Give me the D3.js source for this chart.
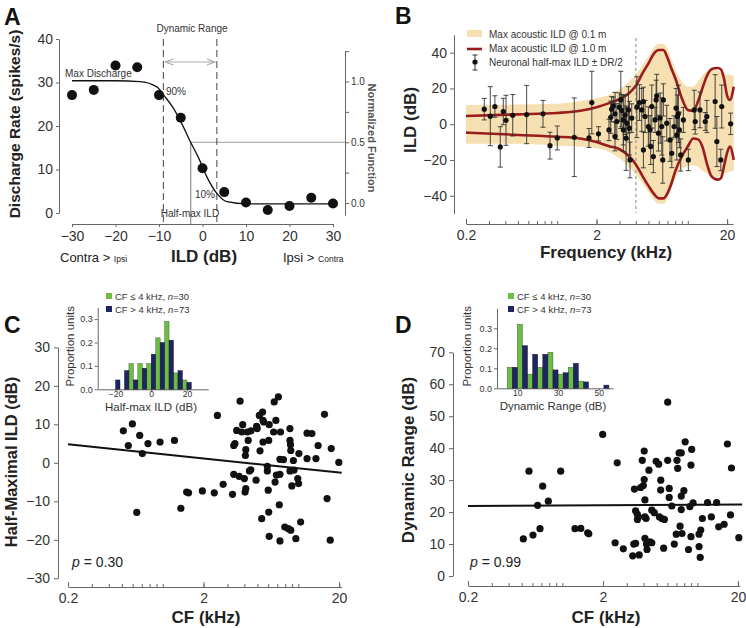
<!DOCTYPE html>
<html>
<head>
<meta charset="utf-8">
<script src="https://cdn.jsdelivr.net/npm/d3@7"></script>
<style>
  body { margin: 0; background: #fff; }
  svg { font-family: "Liberation Sans", Arial, Helvetica, sans-serif; display: block; }
  .axis path, .axis line { stroke: #666; }
  .axis text { fill: #333; font-size: 14px; font-family: "Liberation Sans", Arial, sans-serif; }
  .ann { fill: #333; font-size: 10px; }
  .title { font-weight: bold; fill: #222; font-size: 17px; }
  .letter { font-weight: bold; fill: #111; font-size: 23px; }
</style>
</head>
<body>
<div id="target"></div>
<script>
// ---- panel A: example rate-ILD function ----
const ildLevels = [-30, -25, -20, -15, -10, -5, 0, 5, 10, 15, 20, 25, 30];
const rates = [27.1, 28.3, 33.9, 33.5, 27.1, 21.9, 10.3, 4.8, 2.4, 0.7, 1.6, 3.5, 2.2];
// fitted sigmoid
const fitIld = [-30, -20, -14.4, -10.5, -8.6, -6.7, -4.4, -2.7, -1, 1, 3.3, 5.6, 10.2, 30];
const fitRate = [30.4, 30.4, 30.2, 29, 26.7, 24.1, 19.8, 16.2, 12.9, 8.3, 4.5, 2.6, 2.1, 2.1];
const dr90 = -9, dr10 = 3.3, halfMax = -2.7;

// ---- panel B: acoustic ILD envelopes ----
const envFreq = [0.2, 0.5, 1, 1.5, 2, 2.5, 3, 3.5, 4, 4.5, 5, 5.5, 6, 6.5, 7, 7.5, 8, 9, 10, 11, 12, 13, 14, 15, 16, 17, 18, 19, 20, 21, 22.5];
const tanUpper = [10.8, 11, 11.5, 13, 14.5, 16.5, 19.5, 23.5, 28, 33, 38, 43, 45, 45, 42, 36, 31, 24, 21, 21, 24, 27.5, 29.5, 30.5, 30.5, 30, 29, 28, 28, 27.5, 27];
const tanLower = [-11, -11, -12, -12.5, -13.5, -15.5, -19, -23.5, -28, -33, -38, -42.5, -44.5, -44.5, -41.5, -36, -30.5, -25, -23.5, -23, -24, -26, -27.5, -29, -29.5, -29.5, -28.5, -27.5, -27, -26.5, -26];
const redUpper = [4.6, 5.5, 6.3, 7.5, 9.5, 11.8, 14, 17, 21.5, 28.5, 34, 39.5, 41.5, 41.5, 37, 31, 26, 14.5, 8, 7.5, 13, 20.5, 27, 30.5, 31.3, 31.4, 30.5, 25, 16, 13.5, 21];
const redLower = [-4.7, -6, -7, -8, -10, -12.3, -14, -17.5, -22.5, -29, -34.5, -39, -41.5, -41.5, -38.5, -33, -26.5, -18, -12.5, -8, -8.5, -13, -22, -28.5, -30.5, -31, -30, -23, -16, -12.5, -20];

// neuronal half-max ILD (dB) +- DR/2 vs frequency (kHz)
const bFreq = [0.276, 0.307, 0.333, 0.366, 0.386, 0.405, 0.456, 0.583, 0.778, 0.88, 1.0, 1.35, 1.75, 1.84, 2.07,
  2.49, 2.57, 2.61, 2.69, 2.77, 2.77, 2.86, 2.99, 3.07, 3.12, 3.21, 3.21, 3.31, 3.37, 3.41, 3.51, 3.57, 3.61, 3.72,
  4.07, 4.26, 4.44, 4.57, 4.57, 4.71, 4.99, 5.14, 5.2, 5.3, 5.45, 5.61, 5.72, 5.78, 5.96, 6.14, 6.32, 6.43, 6.5,
  6.9, 7.31, 7.54, 7.85, 8.13, 8.24, 8.32, 8.47, 8.62, 8.83, 9.25, 10.1, 11.2, 11.4, 12.4, 13.6, 14, 16.2, 16.7,
  17.9, 18.2, 21.3];
const bIld = [8.4, 4.5, 9.9, -12.7, 7.1, 2.2, 5, 5.4, 5.8, -12, -7.7, -7.3, -7.7, 12.1, -5.4,
  -3.2, 3.9, 8.4, 10.2, 5.8, -6.9, 1.5, 9.5, 13.6, 7.6, -3.2, 2.4, 5.2, -7.8, 0.6, 8, -2.2, -20, 3.4,
  9.5, 12.1, 8, 12.7, -14.4, 4.3, -1.3, -3.2, -12.5, 9.9, -18.1, 2.4, 13.6, 15.9, -5, 3.4, -1.3, -20, 13.6,
  0.6, -8.8, -16.3, -1.3, 9, -6, 4.3, 5.8, -3.2, -17.2, 2.4, -20, 8, 1.5, 8, 1.5, 4.3, 12.7, -9.7,
  -20, 9.9, 0.2];
const bHalfDR = [6, 16.5, 6, 11.3, 7.4, 14, 11.6, 16.3, 7.5, 7.5, 6.7, 22, 5.3, 17.5, 4,
  6, 9, 7, 5, 12, 8, 10, 8, 16, 9, 12, 14, 11, 18, 9, 13, 15, 10, 8,
  17, 10, 12, 8, 10, 9, 11, 8, 10, 12, 9, 7, 11, 12, 10, 14, 16, 13, 9,
  10, 12, 8, 6, 11, 14, 12, 16, 10, 9, 7, 6, 11, 7, 10, 5, 9, 15, 14,
  6, 12, 6];

// ---- panel C / D: CF scatter ----
const cCF = [0.512, 0.597, 0.557, 0.676, 0.707, 0.778, 0.955, 1.22, 0.643, 1.36, 1.5, 1.55, 1.96, 2.4, 2.53, 2.79,
  3.27, 3.34, 3.34, 3.41, 3.51, 3.66, 3.72, 3.83, 3.89, 4.0, 4.05, 4.1, 4.07, 4.1, 4.21, 4.27, 4.36, 4.46, 4.48,
  4.88, 4.93, 4.97, 5.22, 5.16, 5.37, 5.45, 5.49, 5.49, 5.56, 5.91, 5.91, 6.0, 6.05, 6.05, 6.1, 6.1, 6.58, 6.64,
  6.74, 6.83, 6.89, 7.13, 7.24, 7.32, 7.32, 7.32, 7.39, 7.77, 7.95, 8.45, 8.68, 8.68, 8.76, 8.8, 8.68, 8.8, 8.96,
  9.2, 9.3, 9.6, 9.91, 10.05, 10.1, 10.4, 11.6, 11.6, 12.6, 13.5, 14.0, 15.6, 16.3, 17.2, 17.5, 19.9];
const cIld = [8.3, 10.1, 4.5, 7.1, 2.4, 5.0, 5.4, 5.8, -12.9, -11.8, -7.6, -7.8, -7.3, -7.8, 12.3, -5.6,
  -8.2, -3, 4.5, 5, 8.4, -3.5, 16, 8, 9.9, -4.1, -7.6, -6.7, 1.9, 3.4, 8, 5.8, -2.1, -1.8, 8.3,
  -4.5, 9.5, 8.9, 3.1, 12.3, -14.5, 13.2, 11, 5.4, 10.6, -2.1, -0.9, -7.1, 5.8, -12.8, 9.9, -19.1, 8, 15.8,
  -5, 11, -3.2, 17.1, -10.9, -3, 0.9, -20.3, 8, 0.8, -16.7, -17.1, 8.9, 5.8, 4.7, 3.2, -2.1, -17.5, -6,
  0.6, -1.9, -19.7, -4.1, -5.4, 2.4, -15.4, 7.7, 1.1, 7.6, 1.1, 4.5, 12.6, -9.3, -20.1, 3.7, 0.1];
const cFit = [[0.2, 4.8], [20.9, -2.6]];

const dCF = [0.514, 0.566, 0.606, 0.656, 0.683, 0.715, 0.787, 0.972, 1.24, 1.37, 1.54, 1.57, 1.99, 2.46, 2.55, 2.83,
  3.32, 3.38, 3.49, 3.42, 3.49, 3.59, 3.6, 3.66, 3.71, 3.8, 3.91, 3.98, 4.04, 4.04, 4.09, 4.09, 4.17, 4.09, 4.2,
  4.24, 4.38, 4.46, 4.6, 4.6, 4.8, 4.95, 5.17, 5.36, 5.24, 5.45, 5.63, 5.35, 5.7, 6.03, 6.03, 6.19, 6.19, 6.47,
  6.75, 6.98, 7.07, 7.15, 7.33, 7.6, 7.6, 7.6, 7.7, 7.45, 7.95, 8.13, 8.8, 8.97, 8.97, 9.08, 9.3, 8.6, 10.6, 10.9,
  10.3, 10.5, 10.3, 11.9, 12.7, 13.9, 14.4, 15.8, 16.7, 17.6, 17.9, 20.3];
const dRange = [11.6, 32.8, 12.8, 22.1, 14.8, 28.1, 23.4, 32.8, 14.8, 14.9, 13.5, 13.2, 44.3, 10.4, 35.4, 8.5,
  6.3, 10, 10.2, 27.2, 20.4, 19.4, 17.7, 18.5, 6.6, 27.7, 36.2, 28.3, 39.1, 30.2, 23.8, 18.5, 18, 11.8, 10,
  8.3, 33.1, 10.7, 10.4, 20.6, 19.8, 35.9, 35, 30, 18.5, 18, 8.7, 26.9, 17.7, 54.4, 36.2, 27.4, 24.6, 21.9,
  10, 13.1, 36.2, 33.7, 38.5, 38.5, 25, 20.8, 13.3, 15.6, 26.7, 42, 21.7, 12.3, 34.7, 39.6, 22.9, 8.3, 14.4, 18,
  9.2, 5.8, 13.1, 23, 18.5, 23, 15.4, 16.2, 41.3, 19.1, 33.8, 12];
const dFit = [[0.2, 21.9], [21.5, 22.4]];

// ---- insets: histograms ----
const histGroups = ['CF \u2264 4 kHz', 'CF > 4 kHz'];
const histN = [30, 73];
const cBins = [-20, -15, -10, -5, 0, 5, 10, 15, 20];
const cLow = [0, 0, 0.11, 0.11, 0.11, 0.22, 0.29, 0.07, 0.04];
const cHigh = [0.04, 0.08, 0.04, 0.09, 0.15, 0.2, 0.21, 0.08, 0.03];
const dBins = [7.5, 12.5, 17.5, 22.5, 27.5, 32.5, 37.5, 42.5, 47.5, 52.5];
const dLow = [0.105, 0.32, 0.071, 0.105, 0.18, 0.071, 0.105, 0.036, 0, 0];
const dHigh = [0.105, 0.213, 0.17, 0.17, 0.092, 0.078, 0.125, 0.032, 0, 0.016];

const freqLabels = [0.2, 2, 20];
const green = '#6cbd45', navy = '#1d2562', tan = '#f6dfb0', darkRed = '#9a1c1c';

const svg = d3.select('#target').append('svg')
  .attr('width', 746).attr('height', 628);

function minorLogTicks(lo, hi) {
  const t = [];
  [0.1, 1, 10].forEach(dec => { for (let k = 1; k <= 9; k++) { const v = +(k * dec).toFixed(2); if (v >= lo && v <= hi) t.push(v); } });
  t.push(20);
  return t.filter(v => v <= hi);
}

function logXAxis(x, y0) {
  const g = svg.append('g').attr('class', 'axis').attr('transform', `translate(0,${y0})`);
  g.call(d3.axisBottom(x).tickValues(minorLogTicks(0.2, x.domain()[1])).tickSize(-3).tickSizeOuter(0).tickFormat(''));
  const g2 = svg.append('g').attr('class', 'axis').attr('transform', `translate(0,${y0})`);
  g2.call(d3.axisBottom(x).tickValues(freqLabels).tickSize(-5).tickSizeOuter(0).tickPadding(6).tickFormat(d3.format('')));
  g2.select('.domain').remove();
}

// ===================== A =====================
const xA = d3.scaleLinear().domain([-30, 30]).range([72, 333]);
const yA = d3.scaleLinear().domain([0, 40]).range([213, 39]);
const yAn = d3.scaleLinear().domain([0, 1]).range([203, 81.5]);

svg.append('g').attr('class', 'axis').attr('transform', 'translate(59,0)')
  .call(d3.axisLeft(yA).tickValues([0, 10, 20, 30, 40]).tickSize(3).tickPadding(3).tickSizeOuter(0));
svg.append('g').attr('class', 'axis').attr('transform', 'translate(0,224)')
  .call(d3.axisBottom(xA).tickValues([-30, -20, -10, 0, 10, 20, 30]).tickSize(3).tickPadding(4).tickSizeOuter(0));
const yAnAx = d3.scaleLinear().domain([-0.1, 1.25]).range([yAn(-0.1), yAn(1.25)]);
const rA = svg.append('g').attr('class', 'axis').attr('transform', 'translate(345,0)')
  .call(d3.axisRight(yAnAx).tickValues([0, 0.25, 0.5, 0.75, 1, 1.25]).tickSize(4).tickPadding(2).tickSizeOuter(0)
    .tickFormat(d => [0, 0.5, 1].includes(d) ? d3.format('.1f')(d) : ''));
rA.selectAll('text').style('font-size', '10px');

// reference lines
svg.append('line').attr('x1', xA(halfMax)).attr('x2', 345).attr('y1', yAn(0.5)).attr('y2', yAn(0.5))
  .attr('stroke', '#999').attr('stroke-width', 1);
svg.append('line').attr('x1', xA(halfMax)).attr('x2', xA(halfMax)).attr('y1', yAn(0.5)).attr('y2', 224)
  .attr('stroke', '#777').attr('stroke-width', 1);
[dr90, dr10].forEach(v => {
  svg.append('line').attr('x1', xA(v)).attr('x2', xA(v)).attr('y1', 39).attr('y2', 224)
    .attr('stroke', '#444').attr('stroke-width', 1).attr('stroke-dasharray', '7,4');
});
// dynamic range arrow
const ay = 62, ax1 = xA(dr90) + 2, ax2 = xA(dr10) - 2;
svg.append('line').attr('x1', ax1).attr('x2', ax2).attr('y1', ay).attr('y2', ay).attr('stroke', '#aaa').attr('stroke-width', 1.2);
svg.append('path').attr('d', `M${ax1 + 8},${ay - 3}L${ax1},${ay}L${ax1 + 8},${ay + 3}M${ax2 - 8},${ay - 3}L${ax2},${ay}L${ax2 - 8},${ay + 3}`)
  .attr('fill', 'none').attr('stroke', '#aaa').attr('stroke-width', 1.2);

const fitLine = d3.line().x((d, i) => xA(fitIld[i])).y(d => yA(d)).curve(d3.curveMonotoneX);
svg.append('path').datum(fitRate).attr('d', fitLine).attr('fill', 'none').attr('stroke', '#111').attr('stroke-width', 1.3);
svg.selectAll('.dotA').data(rates).enter().append('circle')
  .attr('cx', (d, i) => xA(ildLevels[i])).attr('cy', d => yA(d)).attr('r', 5).attr('fill', '#111');

svg.append('text').attr('class', 'ann').attr('x', 192).attr('y', 32).attr('text-anchor', 'middle').text('Dynamic Range');
svg.append('text').attr('class', 'ann').attr('x', 65).attr('y', 77).text('Max Discharge');
svg.append('text').attr('class', 'ann').attr('x', 166).attr('y', 95).text('90%');
svg.append('text').attr('class', 'ann').attr('x', 215).attr('y', 198).attr('text-anchor', 'end').text('10%');
svg.append('text').attr('class', 'ann').attr('x', 190).attr('y', 217).attr('text-anchor', 'middle').text('Half-max ILD');

svg.append('text').attr('class', 'title').attr('transform', 'translate(20,124) rotate(-90)').attr('text-anchor', 'middle')
  .style('font-size', '15.5px').text('Discharge Rate (spikes/s)');
svg.append('text').attr('class', 'title').attr('x', 204).attr('y', 262).attr('text-anchor', 'middle').text('ILD (dB)');
const cl = svg.append('text').attr('x', 60).attr('y', 262).attr('fill', '#222').style('font-size', '13px');
cl.append('tspan').text('Contra > ');
cl.append('tspan').style('font-size', '8.5px').text('Ipsi');
const cr = svg.append('text').attr('x', 283).attr('y', 262).attr('fill', '#222').style('font-size', '13px');
cr.append('tspan').text('Ipsi > ');
cr.append('tspan').style('font-size', '8.5px').text('Contra');
svg.append('text').attr('transform', 'translate(368,138) rotate(90)').attr('text-anchor', 'middle')
  .attr('fill', '#555').style('font-weight', 'bold').style('font-size', '11px').text('Normalized Function');

// ===================== B =====================
const xB = d3.scaleLog().domain([0.2, 22.2]).range([466, 733]);
const yB = d3.scaleLinear().domain([-50, 50]).range([213.6, 34.8]);

const area = d3.area().x((d, i) => xB(envFreq[i])).y0((d, i) => yB(tanLower[i])).y1(d => yB(d)).curve(d3.curveMonotoneX);
svg.append('path').datum(tanUpper).attr('d', area).attr('fill', tan);

svg.append('line').attr('x1', xB(4)).attr('x2', xB(4)).attr('y1', 38).attr('y2', 213)
  .attr('stroke', '#999').attr('stroke-width', 1.2).attr('stroke-dasharray', '3,3');

const redLine = d3.line().x((d, i) => xB(envFreq[i])).y(d => yB(d)).curve(d3.curveMonotoneX);
[redUpper, redLower].forEach(s => {
  svg.append('path').datum(s).attr('d', redLine).attr('fill', 'none').attr('stroke', darkRed).attr('stroke-width', 2.6);
});

const eb = svg.append('g');
bFreq.forEach((f, i) => {
  const x = xB(f), y1 = yB(bIld[i] + bHalfDR[i]), y2 = yB(bIld[i] - bHalfDR[i]);
  eb.append('path').attr('d', `M${x},${y1}V${y2}M${x - 2.5},${y1}H${x + 2.5}M${x - 2.5},${y2}H${x + 2.5}`)
    .attr('stroke', '#333').attr('stroke-width', 0.9).attr('fill', 'none');
});
svg.selectAll('.dotB').data(bIld).enter().append('circle')
  .attr('cx', (d, i) => xB(bFreq[i])).attr('cy', d => yB(d)).attr('r', 2.6).attr('fill', '#111');

svg.append('g').attr('class', 'axis').attr('transform', 'translate(454,0)')
  .call(d3.axisLeft(yB).tickValues([-40, -20, 0, 20, 40]).tickSize(4).tickPadding(3).tickSizeOuter(0));
logXAxis(xB, 224);

// legend B
const lg = svg.append('g').style('font-size', '10px').attr('fill', '#333');
lg.append('rect').attr('x', 467).attr('y', 30).attr('width', 15).attr('height', 7).attr('fill', tan);
lg.append('line').attr('x1', 467).attr('x2', 482).attr('y1', 49).attr('y2', 49).attr('stroke', darkRed).attr('stroke-width', 2.6);
lg.append('path').attr('d', 'M475,55V70M472.5,55H477.5M472.5,70H477.5').attr('stroke', '#333').attr('fill', 'none');
lg.append('circle').attr('cx', 475).attr('cy', 62).attr('r', 2.6).attr('fill', '#111');
['Max acoustic ILD @ 0.1 m', 'Max acoustic ILD @ 1.0 m', 'Neuronal half-max ILD \u00b1 DR/2'].forEach((t, i) => {
  lg.append('text').attr('x', 489).attr('y', 38 + i * 14).text(t);
});

svg.append('text').attr('class', 'title').attr('transform', 'translate(416,120) rotate(-90)').attr('text-anchor', 'middle').text('ILD (dB)');
svg.append('text').attr('class', 'title').attr('x', 606).attr('y', 258).attr('text-anchor', 'middle').text('Frequency (kHz)');

// ===================== C =====================
const xC = d3.scaleLog().domain([0.2, 20.9]).range([68, 341.7]);
const yC = d3.scaleLinear().domain([-30, 30]).range([578.3, 347.3]);
svg.append('g').attr('class', 'axis').attr('transform', 'translate(58,0)')
  .call(d3.axisLeft(yC).tickValues([-30, -20, -10, 0, 10, 20, 30]).tickSize(4).tickPadding(4).tickSizeOuter(0));
logXAxis(xC, 587);
svg.append('line').attr('x1', xC(cFit[0][0])).attr('x2', xC(cFit[1][0])).attr('y1', yC(cFit[0][1])).attr('y2', yC(cFit[1][1]))
  .attr('stroke', '#111').attr('stroke-width', 2);
svg.selectAll('.dotC').data(cIld).enter().append('circle')
  .attr('cx', (d, i) => xC(cCF[i])).attr('cy', d => yC(d)).attr('r', 3.6).attr('fill', '#111');
svg.append('text').attr('class', 'title').attr('transform', 'translate(17,462) rotate(-90)').attr('text-anchor', 'middle')
  .style('font-size', '16.5px').text('Half-Maximal ILD (dB)');
svg.append('text').attr('class', 'title').attr('x', 206).attr('y', 623).attr('text-anchor', 'middle').text('CF (kHz)');
const pC = svg.append('text').attr('x', 72).attr('y', 567).attr('fill', '#222').style('font-size', '14px');
pC.append('tspan').style('font-style', 'italic').text('p');
pC.append('tspan').text(' = 0.30');

// ===================== D =====================
const xD = d3.scaleLog().domain([0.2, 20.6]).range([468, 739.7]);
const yD = d3.scaleLinear().domain([0, 70]).range([576, 352.3]);
svg.append('g').attr('class', 'axis').attr('transform', 'translate(453,0)')
  .call(d3.axisLeft(yD).tickValues([0, 10, 20, 30, 40, 50, 60, 70]).tickSize(4).tickPadding(4).tickSizeOuter(0));
logXAxis(xD, 586);
svg.append('line').attr('x1', xD(dFit[0][0])).attr('x2', xD(dFit[1][0])).attr('y1', yD(dFit[0][1])).attr('y2', yD(dFit[1][1]))
  .attr('stroke', '#111').attr('stroke-width', 2);
svg.selectAll('.dotD').data(dRange).enter().append('circle')
  .attr('cx', (d, i) => xD(dCF[i])).attr('cy', d => yD(d)).attr('r', 3.6).attr('fill', '#111');
svg.append('text').attr('class', 'title').attr('transform', 'translate(414,460) rotate(-90)').attr('text-anchor', 'middle')
  .text('Dynamic Range (dB)');
svg.append('text').attr('class', 'title').attr('x', 606).attr('y', 623).attr('text-anchor', 'middle').text('CF (kHz)');
const pD = svg.append('text').attr('x', 470).attr('y', 567).attr('fill', '#222').style('font-size', '14px');
pD.append('tspan').style('font-style', 'italic').text('p');
pD.append('tspan').text(' = 0.99');

// ===================== insets =====================
function inset(opts) {
  const { x, y, bins, low, high, binW, ticks, yTicks, label, legX, ylabX } = opts;
  const gx = svg.append('g').attr('class', 'axis').attr('transform', `translate(0,${y.range()[0]})`)
    .call(d3.axisBottom(x).tickValues(ticks).tickSize(2).tickPadding(0).tickSizeOuter(0));
  gx.selectAll('text').style('font-size', '8.5px');
  const gy = svg.append('g').attr('class', 'axis').attr('transform', `translate(${x.range()[0]},0)`)
    .call(d3.axisLeft(y).tickValues(yTicks).tickSize(3).tickPadding(2).tickSizeOuter(0).tickFormat(d3.format('.1f')));
  gy.selectAll('text').style('font-size', '9px');
  const bw = x(binW / 2) - x(0);
  svg.selectAll(null).data(low).enter().append('rect')
    .attr('x', (d, i) => x(bins[i]) - bw).attr('width', bw).attr('y', d => y(d)).attr('height', d => y(0) - y(d))
    .attr('fill', green).attr('stroke', '#3a4a2a').attr('stroke-width', d => d > 0 ? 0.4 : 0);
  svg.selectAll(null).data(high).enter().append('rect')
    .attr('x', (d, i) => x(bins[i])).attr('width', bw).attr('y', d => y(d)).attr('height', d => y(0) - y(d))
    .attr('fill', navy).attr('stroke', '#111').attr('stroke-width', d => d > 0 ? 0.4 : 0);
  svg.append('text').attr('x', (x.range()[0] + x.range()[1]) / 2 - 2).attr('y', y.range()[0] + 22)
    .attr('text-anchor', 'middle').attr('fill', '#333').style('font-size', '11.5px').text(label);
  svg.append('text').attr('transform', `translate(${ylabX},${(y.range()[0] + y.range()[1]) / 2 - 2}) rotate(-90)`)
    .attr('text-anchor', 'middle').attr('fill', '#333').style('font-size', '11.5px').text('Proportion units');
  [green, navy].forEach((c, i) => {
    svg.append('rect').attr('x', legX).attr('y', 293 + i * 13).attr('width', 6).attr('height', 6).attr('fill', c);
    const t = svg.append('text').attr('x', legX + 9).attr('y', 300 + i * 13).attr('fill', '#333').style('font-size', '9.5px');
    t.append('tspan').text(histGroups[i] + ', ');
    t.append('tspan').style('font-style', 'italic').text('n');
    t.append('tspan').text('=' + histN[i]);
  });
}
inset({
  x: d3.scaleLinear().domain([-30, 32]).range([97.7, 208.3]),
  y: d3.scaleLinear().domain([0, 0.35]).range([389.3, 307.4]),
  bins: cBins, low: cLow, high: cHigh, binW: 5, ticks: [-20, 0, 20], yTicks: [0, 0.1, 0.2, 0.3],
  label: 'Half-max ILD (dB)', legX: 106, ylabX: 74
});
inset({
  x: d3.scaleLinear().domain([0, 57]).range([497, 613]),
  y: d3.scaleLinear().domain([0, 0.4]).range([388.3, 308.3]),
  bins: dBins, low: dLow, high: dHigh, binW: 5, ticks: [10, 30, 50], yTicks: [0, 0.1, 0.2, 0.3],
  label: 'Dynamic Range (dB)', legX: 508, ylabX: 471
});

// panel letters
[['A', 4, 25], ['B', 395, 24], ['C', 4, 333], ['D', 395, 333]].forEach(([t, x, y]) => {
  svg.append('text').attr('class', 'letter').attr('x', x).attr('y', y).text(t);
});
</script>
</body>
</html>
